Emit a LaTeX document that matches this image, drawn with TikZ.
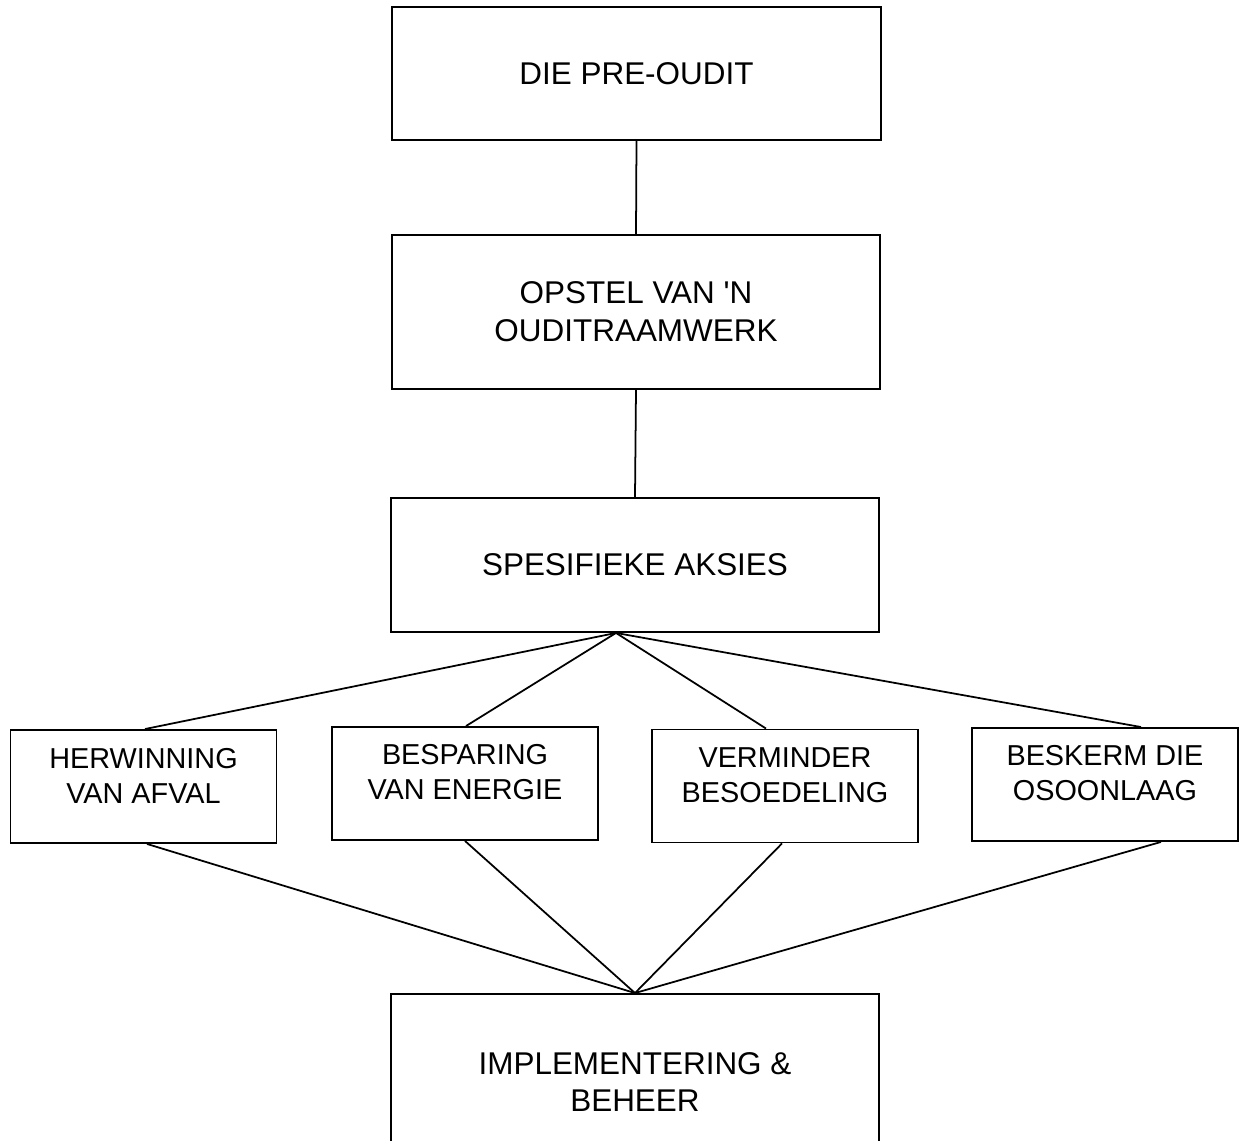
\documentclass[tikz,border=0pt]{standalone}
\usepackage{fontspec}
\setmainfont{Liberation Sans}

\begin{document}
\begin{tikzpicture}
[x=0.02cm, y=-0.02cm,
every node/.style = {align=center}]
\tikzstyle{bigbox} = [rectangle, draw=black, line width=1.1pt, minimum width=9.78cm, font=\fontsize{17.9}{21.6}\selectfont]
\tikzstyle{smallbox} = [rectangle, draw=black, line width=1.1pt, minimum width=5.32cm, minimum height=2.26cm]
\tikzstyle{smalltext} = [yshift=0.22cm, font=\fontsize{16.4}{19.9}\selectfont]
\tikzstyle{link} = [draw=black, line width=1pt]

\clip (0,0) rectangle (1242,1141);

\node[bigbox, minimum height=2.66cm] (pre) at (636.5,73.5) {DIE PRE-OUDIT};
\node[bigbox, minimum height=3.08cm] (opstel) at (636,312) {OPSTEL VAN \textquotesingle N\\OUDITRAAMWERK};
\node[bigbox, minimum height=2.68cm] (aksies) at (635,565) {SPESIFIEKE AKSIES};

\node[smallbox, label={[smalltext]center:HERWINNING\\VAN AFVAL}] (afval) at (143.5,786.5) {};
\node[smallbox, label={[smalltext]center:BESPARING\\VAN ENERGIE}] (energie) at (465,783.5) {};
\node[smallbox, label={[smalltext]center:VERMINDER\\BESOEDELING}] (besoedeling) at (785,786) {};
\node[smallbox, label={[smalltext]center:BESKERM DIE\\OSOONLAAG}] (osoon) at (1105,784.5) {};

\node[bigbox, minimum height=3.52cm] (beheer) at (635,1082) {IMPLEMENTERING \&\\BEHEER};

\coordinate (split) at ([xshift=-0.38cm]aksies.south);

\path[link] (pre.south) -- (opstel.north);
\path[link] (opstel.south) -- (aksies.north);

\path[link] (split) -- ([xshift=0.03cm]afval.north);
\path[link] (split) -- ([xshift=0.02cm]energie.north);
\path[link] (split) -- ([xshift=-0.38cm]besoedeling.north);
\path[link] (split) -- ([xshift=0.72cm]osoon.north);

\path[link] ([xshift=0.07cm]afval.south) -- (beheer.north);
\path[link] (energie.south) -- (beheer.north);
\path[link] ([xshift=-0.06cm]besoedeling.south) -- (beheer.north);
\path[link] ([xshift=1.12cm]osoon.south) -- (beheer.north);

\end{tikzpicture}
\end{document}
